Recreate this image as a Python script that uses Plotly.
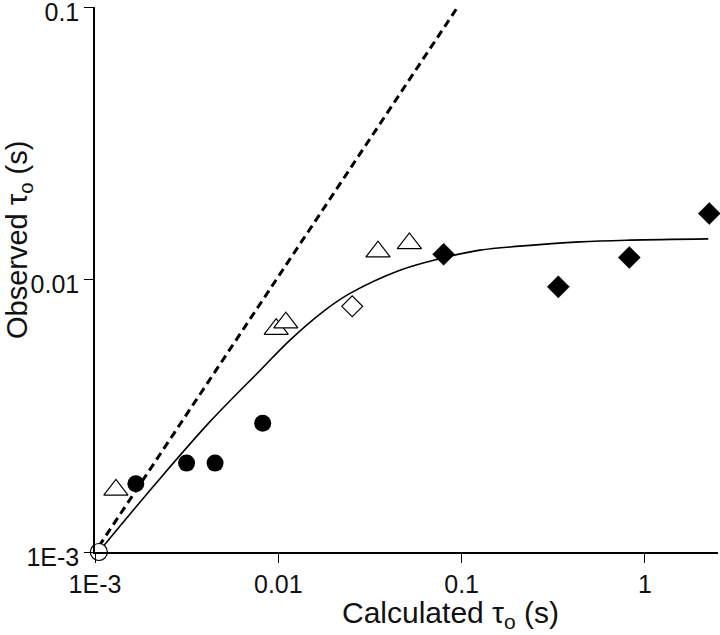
import plotly.graph_objects as go

# Data (seconds)
circ_filled_x = [0.00167, 0.00316, 0.00452, 0.00822]
circ_filled_y = [0.00178, 0.00212, 0.00212, 0.00297]

tri_open_x = [0.00130, 0.00974, 0.01099, 0.0350, 0.0519]
tri_open_y = [0.00169, 0.00658, 0.00695, 0.01267, 0.01358]

dia_open_x = [0.0253]
dia_open_y = [0.00798]

dia_filled_x = [0.0798, 0.337, 0.822, 2.245]
dia_filled_y = [0.01239, 0.00941, 0.01206, 0.01749]

circ_open_x = [0.00105]
circ_open_y = [0.001]

fit_x = [0.00111, 0.00217, 0.00424, 0.00800, 0.01158, 0.0175, 0.0246, 0.0461,
         0.0731, 0.126, 0.208, 0.443, 0.829, 2.218]
fit_y = [0.00105, 0.00180, 0.00301, 0.00466, 0.00600, 0.00762, 0.00890, 0.01083,
         0.01186, 0.01283, 0.01327, 0.01376, 0.01396, 0.01411]

ident_x = [0.00105, 0.095]
ident_y = [0.00105, 0.100]

x_tickvals = [0.001, 0.01, 0.1, 1]
x_ticktext = ["1E-3", "0.01", "0.1", "1"]
y_tickvals = [0.001, 0.01, 0.1]
y_ticktext = ["1E-3", "0.01", "0.1"]

FONT = "Liberation Sans, Arial, sans-serif"

fig = go.Figure()

fig.add_trace(go.Scatter(x=ident_x, y=ident_y, mode="lines",
                         line=dict(color="black", width=3, dash="8px,5px"),
                         showlegend=False, hoverinfo="skip"))
fig.add_trace(go.Scatter(x=fit_x, y=fit_y, mode="lines", line_shape="spline",
                         line=dict(color="black", width=1.6, smoothing=1),
                         showlegend=False, hoverinfo="skip"))

fig.add_trace(go.Scatter(x=circ_filled_x, y=circ_filled_y, mode="markers",
                         marker=dict(symbol="circle", size=17, color="black",
                                     line=dict(color="black", width=0)),
                         showlegend=False))
fig.add_trace(go.Scatter(x=tri_open_x, y=tri_open_y, mode="markers",
                         marker=dict(symbol="triangle-up", size=21, color="white",
                                     line=dict(color="black", width=1.2)),
                         showlegend=False))
fig.add_trace(go.Scatter(x=dia_open_x, y=dia_open_y, mode="markers",
                         marker=dict(symbol="diamond", size=16, color="white",
                                     line=dict(color="black", width=1.2)),
                         showlegend=False))
fig.add_trace(go.Scatter(x=dia_filled_x, y=dia_filled_y, mode="markers", cliponaxis=False,
                         marker=dict(symbol="diamond", size=17, color="black",
                                     line=dict(color="black", width=0.5)),
                         showlegend=False))
fig.add_trace(go.Scatter(x=circ_open_x, y=circ_open_y, mode="markers", cliponaxis=False,
                         marker=dict(symbol="circle", size=17, color="white",
                                     line=dict(color="black", width=1.2)),
                         showlegend=False))

fig.update_xaxes(type="log", range=[-3, 0.3988], tickvals=x_tickvals, ticktext=x_ticktext,
                 showline=True, linecolor="black", linewidth=1.5, mirror=False,
                 ticks="outside", ticklen=9, tickwidth=1.3, tickcolor="black",
                 showgrid=False, zeroline=False, automargin=False,
                 ticklabeloverflow="allow",
                 tickfont=dict(family=FONT, size=25, color="#111"))
fig.update_yaxes(type="log", range=[-3, -0.999], tickvals=y_tickvals, ticktext=y_ticktext,
                 showline=True, linecolor="black", linewidth=1.5, mirror=False,
                 ticks="outside", ticklen=9, tickwidth=1.3, tickcolor="black",
                 showgrid=False, zeroline=False, automargin=False,
                 ticklabeloverflow="allow", ticklabelshift=5,
                 tickfont=dict(family=FONT, size=25, color="#111"))

fig.add_annotation(text="Calculated τ<sub>o</sub> (s)", xref="paper", yref="paper",
                   x=(450 - 95) / 623, y=-(614 - 552) / 545, xanchor="center", yanchor="middle",
                   showarrow=False, font=dict(family=FONT, size=30, color="#111"))
fig.add_annotation(text="Observed τ<sub>o</sub> (s)", xref="paper", yref="paper",
                   x=-(95 - 19) / 623, y=(552 - 240) / 545, xanchor="center", yanchor="middle",
                   textangle=-90, showarrow=False, font=dict(family=FONT, size=29, color="#111"))

fig.update_layout(width=720, height=635, margin=dict(l=95, r=2, t=7, b=83),
                  plot_bgcolor="white", paper_bgcolor="white")

fig.write_html("out.html", config={"displayModeBar": False},
               post_script="document.body.style.margin='0';")
